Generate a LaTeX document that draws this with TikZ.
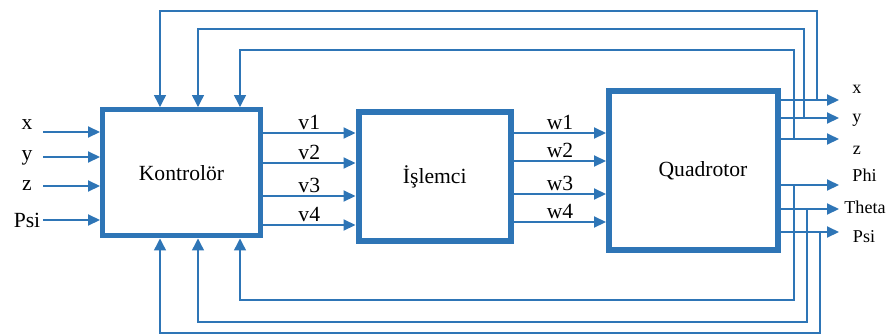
\documentclass[tikz,border=0pt]{standalone}
\usepackage{fontspec}
\setmainfont{Liberation Serif}
\usetikzlibrary{arrows.meta}
\definecolor{lineblue}{RGB}{46,117,182}

\begin{document}
\begin{tikzpicture}[x=0.02cm, y=-0.02cm,
        block/.style={draw=lineblue, fill=white, text=black, font=\fontsize{12.3}{14}\selectfont},
        sig/.style={lineblue, line width=1.1pt, -{Triangle[length=0.24cm, width=0.22cm]}},
        fb/.style={lineblue, line width=0.8pt, -{Triangle[length=0.24cm, width=0.24cm]}},
        lbl/.style={text=black, font=\fontsize{12.3}{14}\selectfont, inner sep=1.5pt},
        outlbl/.style={text=black, font=\fontsize{10.3}{12}\selectfont, inner sep=1pt}]
        \useasboundingbox (0,0) rectangle (892,335);

        % the three blocks
        \node [block, line width=0.1cm, minimum width=3.16cm, minimum height=2.53cm] (ctrl) at (181.5,172.75) {Kontrolör};
        \node [block, line width=0.12cm, minimum width=3.05cm, minimum height=2.58cm] (isl) at (434.75,176.5) {İşlemci};
        \node [block, line width=0.12cm, minimum width=3.38cm, minimum height=3.18cm] (quad) at (693.5,170.5) {\hspace{0.38cm}Quadrotor};

        % reference inputs
        \foreach \n/\txt/\ly/\yy in {1/x/125/132, 2/y/158/157, 3/z/186/186, 4/Psi/220/220} {
            \node [lbl] (ref\n) at (27,\ly) {\txt};
            \coordinate (in\n) at (43,\yy);
            \draw [sig] (in\n) -- (in\n -| ctrl.west);
        }

        % controller -> processor
        \foreach \n/\yy in {1/133, 2/163, 3/196, 4/225} {
            \coordinate (v\n) at (300,\yy);
            \draw [sig] (ctrl.east |- v\n) -- node [lbl, above] {v\n} (isl.west |- v\n);
        }

        % processor -> quadrotor
        \foreach \n/\yy in {1/133, 2/161, 3/194, 4/222} {
            \coordinate (w\n) at (560,\yy);
            \draw [sig] (isl.east |- w\n) -- node [lbl, above] {w\n} (quad.west |- w\n);
        }

        % states out of the quadrotor
        \foreach \n/\yy/\txt/\lx/\ly in {1/100/x/857/89, 2/118/y/857/120, 3/139/z/857/150,
                4/185/Phi/864.5/175, 5/209/Theta/865/207, 6/232/Psi/864/237} {
            \coordinate (out\n) at (839,\yy);
            \draw [sig] (quad.east |- out\n) -- (out\n);
            \node [outlbl] (st\n) at (\lx,\ly) {\txt};
        }

        % feedback over the top
        \foreach \n/\tx/\kx/\ky in {1/817/160/11, 2/804/198/29, 3/794/240/50} {
            \coordinate (tap\n) at (\tx,0);
            \coordinate (top\n) at (\kx,\ky);
            \draw [fb] (tap\n |- out\n) |- (top\n) -- (top\n |- ctrl.north);
        }

        % feedback under the bottom
        \foreach \n/\tx/\kx/\ky in {4/794/240/300, 5/807/198/322, 6/820/160/333} {
            \coordinate (tap\n) at (\tx,0);
            \coordinate (bot\n) at (\kx,\ky);
            \draw [fb] (tap\n |- out\n) |- (bot\n) -- (bot\n |- ctrl.south);
        }
    \end{tikzpicture}
\end{document}
